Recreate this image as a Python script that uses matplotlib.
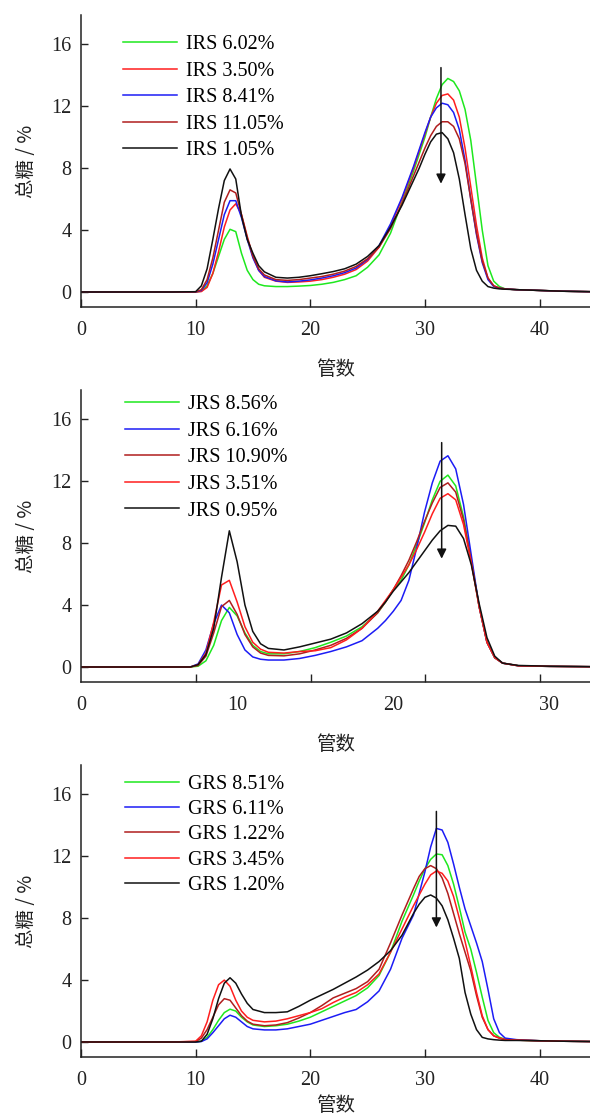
import matplotlib
matplotlib.use("Agg")
import matplotlib.pyplot as plt
from matplotlib.ticker import FixedLocator, NullFormatter

plt.rcParams['font.family'] = ['Liberation Serif', 'Noto Sans CJK SC']

# ---------------- data ----------------
# Panel 1: IRS
x_irs = [0, 2, 4, 6, 8, 10, 10.5, 11, 11.5, 12, 12.5, 13, 13.5, 14, 14.5, 15, 15.5, 16,
         17, 18, 19, 20, 21, 22, 23, 24, 25, 26, 27, 28, 29, 29.5, 30, 30.5, 31, 31.5,
         32, 32.5, 33, 33.5, 34, 34.5, 35, 35.5, 36, 36.5, 37, 38, 40, 42, 44.4]
irs_602 = [0, 0, 0, 0, 0, 0, 0.05, 0.4, 1.2, 2.3, 3.4, 4.05, 3.9, 2.5, 1.4, 0.8, 0.5, 0.4,
           0.35, 0.35, 0.38, 0.42, 0.5, 0.62, 0.8, 1.05, 1.6, 2.4, 3.8, 5.8, 7.8, 8.9, 10.0, 11.3, 12.5, 13.4,
           13.8, 13.6, 13.0, 11.8, 9.8, 6.9, 4.0, 1.7, 0.7, 0.35, 0.2, 0.15, 0.1, 0.05, 0.02]
irs_350 = [0, 0, 0, 0, 0, 0, 0.03, 0.3, 1.2, 2.6, 4.2, 5.3, 5.7, 5.0, 3.6, 2.3, 1.4, 0.95,
           0.7, 0.62, 0.65, 0.7, 0.8, 0.95, 1.15, 1.45, 2.0, 2.9, 4.3, 6.0, 8.0, 9.1, 10.2, 11.3, 12.2, 12.7,
           12.8, 12.4, 11.3, 9.3, 6.8, 4.3, 2.2, 0.9, 0.4, 0.25, 0.2, 0.15, 0.1, 0.05, 0.02]
irs_841 = [0, 0, 0, 0, 0, 0, 0.1, 0.6, 1.8, 3.4, 5.0, 5.9, 5.9, 4.8, 3.4, 2.2, 1.4, 1.0,
           0.72, 0.65, 0.7, 0.78, 0.9, 1.05, 1.25, 1.55, 2.1, 3.0, 4.4, 6.1, 8.1, 9.2, 10.3, 11.3, 11.9, 12.2,
           12.1, 11.6, 10.5, 8.5, 6.0, 3.7, 1.9, 0.8, 0.35, 0.25, 0.2, 0.15, 0.1, 0.05, 0.02]
irs_1105 = [0, 0, 0, 0, 0, 0, 0.15, 0.8, 2.2, 4.0, 5.8, 6.6, 6.4, 5.0, 3.5, 2.3, 1.5, 1.1,
            0.8, 0.75, 0.8, 0.9, 1.0, 1.15, 1.35, 1.65, 2.15, 2.9, 4.1, 5.7, 7.5, 8.4, 9.3, 10.1, 10.7, 11.0,
            11.0, 10.7, 9.9, 8.3, 6.0, 3.8, 2.0, 0.9, 0.4, 0.25, 0.2, 0.15, 0.1, 0.05, 0.02]
irs_105 = [0, 0, 0, 0, 0, 0.02, 0.4, 1.5, 3.4, 5.4, 7.2, 7.95, 7.3, 4.9, 3.4, 2.5, 1.7, 1.3,
           0.95, 0.9, 0.95, 1.05, 1.18, 1.32, 1.5, 1.8, 2.3, 3.0, 4.2, 5.6, 7.2, 8.0, 8.9, 9.7, 10.2, 10.3,
           9.9, 9.0, 7.3, 5.0, 2.8, 1.4, 0.7, 0.35, 0.25, 0.2, 0.18, 0.15, 0.1, 0.05, 0.02]

# Panel 2: JRS
x_jrs = [0, 2, 4, 6, 7, 7.5, 8, 8.5, 9, 9.5, 10, 10.5, 11, 11.5, 12, 13, 14, 15, 16, 17, 18,
         19, 19.5, 20, 20.5, 21, 21.5, 22, 22.5, 23, 23.5, 24, 24.5, 25, 25.5, 26, 26.5, 27,
         28, 30, 32.6]
jrs_856 = [0, 0, 0, 0, 0, 0.05, 0.4, 1.4, 3.0, 3.85, 3.3, 2.2, 1.4, 1.0, 0.85, 0.85, 1.0, 1.25, 1.6, 2.0, 2.6,
           3.5, 4.2, 5.0, 5.6, 6.6, 7.9, 9.3, 10.8, 12.0, 12.4, 11.7, 9.7, 6.9, 3.9, 1.6, 0.6, 0.25,
           0.08, 0.04, 0.02]
jrs_616 = [0, 0, 0, 0, 0, 0.2, 1.1, 2.8, 4.0, 3.5, 2.1, 1.1, 0.65, 0.5, 0.45, 0.45, 0.55, 0.75, 1.0, 1.3, 1.7,
           2.5, 3.0, 3.6, 4.3, 5.6, 7.7, 10.0, 11.9, 13.3, 13.65, 12.8, 10.5, 7.2, 3.9, 1.6, 0.6, 0.25,
           0.08, 0.04, 0.02]
jrs_1090 = [0, 0, 0, 0, 0, 0.1, 0.7, 2.2, 3.9, 4.3, 3.4, 2.1, 1.3, 0.9, 0.75, 0.72, 0.85, 1.1, 1.4, 1.85, 2.5,
            3.5, 4.2, 5.0, 5.9, 6.9, 8.1, 9.4, 10.6, 11.6, 11.9, 11.3, 9.5, 6.8, 3.9, 1.6, 0.6, 0.25,
            0.08, 0.04, 0.02]
jrs_351 = [0, 0, 0, 0, 0, 0.15, 0.9, 2.9, 5.3, 5.6, 4.2, 2.6, 1.6, 1.15, 0.95, 0.9, 1.0, 1.05, 1.25, 1.75, 2.5,
           3.6, 4.3, 5.0, 5.8, 6.6, 7.6, 8.7, 9.9, 10.9, 11.2, 10.8, 9.2, 6.7, 3.9, 1.6, 0.6, 0.25,
           0.08, 0.04, 0.02]
jrs_095 = [0, 0, 0, 0, 0, 0.15, 0.8, 2.5, 5.8, 8.8, 6.8, 4.0, 2.3, 1.5, 1.2, 1.1, 1.3, 1.55, 1.8, 2.2, 2.8,
           3.6, 4.2, 4.9, 5.5, 6.1, 6.8, 7.5, 8.2, 8.8, 9.15, 9.1, 8.3, 6.6, 4.1, 1.9, 0.7, 0.25,
           0.1, 0.05, 0.02]

# Panel 3: GRS
x_grs = [0, 2, 4, 6, 8, 10, 10.5, 11, 11.5, 12, 12.5, 13, 13.5, 14, 14.5, 15, 16, 17, 18, 19,
         20, 21, 22, 23, 24, 25, 26, 27, 28, 29, 29.5, 30, 30.5, 31, 31.5, 32, 32.5, 33, 33.5,
         34, 34.5, 35, 35.5, 36, 36.5, 37, 38, 40, 42, 44.4]
grs_851 = [0, 0, 0, 0, 0, 0, 0.05, 0.3, 0.8, 1.4, 1.9, 2.12, 2.0, 1.6, 1.3, 1.1, 1.0, 1.05, 1.15, 1.35,
           1.6, 1.95, 2.3, 2.65, 3.0, 3.5, 4.3, 5.8, 7.8, 9.5, 10.4, 11.2, 11.8, 12.15, 12.1, 11.4, 10.2, 8.7, 7.1,
           6.0, 4.5, 2.9, 1.4, 0.6, 0.3, 0.18, 0.12, 0.08, 0.05, 0.03]
grs_611 = [0, 0, 0, 0, 0, 0, 0.03, 0.2, 0.6, 1.05, 1.5, 1.73, 1.6, 1.3, 1.0, 0.85, 0.78, 0.78, 0.85, 1.0,
           1.15, 1.4, 1.65, 1.9, 2.1, 2.6, 3.3, 4.7, 6.7, 8.2, 9.6, 11.0, 12.6, 13.8, 13.7, 12.9, 11.5, 10.0, 8.6,
           7.5, 6.4, 5.2, 3.4, 1.5, 0.6, 0.25, 0.15, 0.08, 0.05, 0.03]
grs_122 = [0, 0, 0, 0, 0, 0.03, 0.25, 0.8, 1.6, 2.4, 2.8, 2.7, 2.2, 1.7, 1.35, 1.15, 1.05, 1.1, 1.25, 1.55,
           1.9, 2.35, 2.85, 3.15, 3.45, 3.9, 4.7, 6.4, 8.2, 9.9, 10.7, 11.2, 11.4, 11.2, 10.6, 9.6, 8.3, 7.0, 5.8,
           4.6, 3.0, 1.6, 0.8, 0.4, 0.25, 0.15, 0.12, 0.08, 0.05, 0.03]
grs_345 = [0, 0, 0, 0, 0, 0.05, 0.4, 1.3, 2.7, 3.7, 4.0, 3.6, 2.7, 2.0, 1.6, 1.4, 1.3, 1.35, 1.5, 1.7,
           1.9, 2.15, 2.55, 2.9, 3.2, 3.7, 4.4, 5.8, 7.3, 8.8, 9.5, 10.2, 10.8, 11.05, 10.9, 10.4, 9.4, 8.0, 6.5,
           4.9, 3.2, 1.7, 0.8, 0.4, 0.25, 0.15, 0.12, 0.08, 0.05, 0.03]
grs_120 = [0, 0, 0, 0, 0, 0, 0.05, 0.5, 1.5, 2.8, 3.8, 4.15, 3.8, 3.1, 2.5, 2.1, 1.9, 1.9, 1.95, 2.3,
           2.7, 3.05, 3.4, 3.8, 4.2, 4.65, 5.2, 5.9, 6.9, 8.3, 8.9, 9.35, 9.5, 9.3, 8.8, 7.9, 6.7, 5.4, 3.2,
           1.8, 0.8, 0.3, 0.2, 0.15, 0.12, 0.1, 0.1, 0.08, 0.05, 0.03]

labels_irs = ['IRS 6.02%', 'IRS 3.50%', 'IRS 8.41%', 'IRS 11.05%', 'IRS 1.05%']
labels_jrs = ['JRS 8.56%', 'JRS 6.16%', 'JRS 10.90%', 'JRS 3.51%', 'JRS 0.95%']
labels_grs = ['GRS 8.51%', 'GRS 6.11%', 'GRS 1.22%', 'GRS 3.45%', 'GRS 1.20%']

# arrows: x position, start (top) and end (bottom) values
arrow_x = [31.4, 23.1, 31.0]
arrow_top = [14.5, 14.5, 14.9]
arrow_bottom = [7.0, 7.0, 7.4]

x_ticks_main = [0, 10, 20, 30, 40]
x_ticks_jrs_labels = [0, 10, 20, 30]
x_ticks_jrs_marks = [7.35, 14.7, 22.05, 29.4]
y_ticks = [0, 4, 8, 12, 16]

# ---------------- styling ----------------
GREEN = '#1EE81E'
RED = '#FF1E1E'
BLUE = '#1C1CF5'
BROWN = '#B01E1E'
BLACK = '#111111'

panels = [
    (x_irs, [irs_602, irs_350, irs_841, irs_1105, irs_105], labels_irs,
     [GREEN, RED, BLUE, BROWN, BLACK], 44.4, (0.0825, 0.931), 0.37, 14),
    (x_jrs, [jrs_856, jrs_616, jrs_1090, jrs_351, jrs_095], labels_jrs,
     [GREEN, BLUE, BROWN, RED, BLACK], 32.6, (0.086, 0.982), 0.37, 14),
    (x_grs, [grs_851, grs_611, grs_122, grs_345, grs_120], labels_grs,
     [GREEN, BLUE, BROWN, RED, BLACK], 44.4, (0.086, 0.967), 0.31, 4),
]

W, H = 590, 1120
fig = plt.figure(figsize=(W / 100, H / 100), dpi=100)
axes_px = [(15, 307), (390, 682), (765, 1057)]
left_px = 81

for i, ((xs, ys, labs, cols, xmax, leg_anchor, lsp, xlpad), (top, bot)) in enumerate(zip(panels, axes_px)):
    ax = fig.add_axes([left_px / W, 1 - bot / H, 1 - left_px / W, (bot - top) / H])
    for y, lab, c in zip(ys, labs, cols):
        ax.plot(xs, y, color=c, lw=1.1, label=lab)
    ax.set_xlim(0, xmax)
    ax.set_ylim(-0.97, 17.9)
    for s in ['top', 'right']:
        ax.spines[s].set_visible(False)
    for s in ['left', 'bottom']:
        ax.spines[s].set_linewidth(1.1)
        ax.spines[s].set_color('#222222')
    ax.set_yticks(y_ticks)
    ax.tick_params(axis='y', direction='in', length=5, width=1, labelsize=14.5, pad=7, colors='#222222')
    if i == 1:
        ax.xaxis.set_major_locator(FixedLocator(x_ticks_jrs_labels))
        ax.xaxis.set_minor_locator(FixedLocator(x_ticks_jrs_marks))
        ax.xaxis.set_minor_formatter(NullFormatter())
        ax.tick_params(axis='x', which='major', length=0, labelsize=14.5, pad=10, colors='#222222')
        ax.tick_params(axis='x', which='minor', direction='in', length=6, width=1, colors='#222222')
    else:
        ax.set_xticks(x_ticks_main)
        ax.tick_params(axis='x', direction='in', length=6, width=1, labelsize=14.5, pad=10, colors='#222222')
    ax.set_xlabel('管数', family=['Noto Sans CJK SC'], fontsize=14, labelpad=xlpad, color='#222222')
    ax.set_ylabel('总糖 / %', family=['Noto Sans CJK SC'], fontsize=14, labelpad=10, color='#222222')
    ax.annotate('', xy=(arrow_x[i], arrow_bottom[i]), xytext=(arrow_x[i], arrow_top[i]),
                arrowprops=dict(arrowstyle='-|>', color='#111111', lw=1.1,
                                mutation_scale=14, shrinkA=0, shrinkB=0))
    ax.legend(loc='upper left', bbox_to_anchor=leg_anchor, frameon=False,
              fontsize=14.5, handlelength=2.7, handletextpad=0.45, labelspacing=lsp,
              borderpad=0, borderaxespad=0)

fig.savefig('out.png', dpi=100)
